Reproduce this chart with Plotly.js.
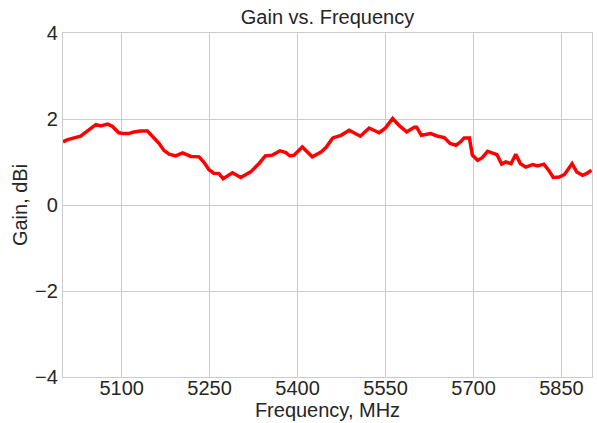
<!DOCTYPE html>
<html>
<head>
<meta charset="utf-8">
<script src="https://cdn.plot.ly/plotly-3.0.1.min.js"></script>
<style>html,body{margin:0;padding:0;background:#fff;}#chart{width:597px;height:423px;}</style>
</head>
<body>
<div id="chart"></div>
<script>
const frequency = [5000,5008,5030,5043,5056,5064,5076,5084,5095,5104,5112,5121,5132,5144,5155,5164,5172,5181,5192,5204,5218,5232,5240,5249,5257,5266,5273,5289,5303,5320,5334,5345,5357,5370,5380,5387,5394,5408,5425,5440,5448,5460,5474,5488,5507,5522,5539,5549,5562,5573,5586,5599,5603,5611,5627,5639,5650,5660,5670,5678,5684,5693,5698,5707,5715,5724,5740,5748,5755,5764,5772,5780,5789,5801,5809,5820,5828,5836,5846,5855,5868,5876,5886,5894,5901];
const gain = [1.47,1.52,1.60,1.74,1.87,1.84,1.88,1.83,1.68,1.66,1.66,1.70,1.72,1.72,1.57,1.43,1.27,1.18,1.14,1.21,1.13,1.12,1.00,0.82,0.74,0.73,0.61,0.75,0.64,0.77,0.96,1.14,1.16,1.26,1.22,1.14,1.16,1.35,1.12,1.23,1.33,1.56,1.62,1.74,1.60,1.79,1.68,1.78,2.01,1.85,1.70,1.81,1.81,1.62,1.66,1.60,1.57,1.43,1.39,1.47,1.56,1.56,1.16,1.04,1.10,1.25,1.17,0.95,1.00,0.96,1.18,0.96,0.88,0.94,0.91,0.95,0.81,0.64,0.65,0.71,0.96,0.77,0.69,0.74,0.81];
const xTicks = [5100,5250,5400,5550,5700,5850];
const yTicks = [-4,-2,0,2,4];

const family = '"Liberation Sans", Arial, sans-serif';
const txt = {size: 20, family: family, color: '#262626'};
const axisCommon = {
  showgrid: true, gridcolor: '#cccccc', gridwidth: 1,
  showline: true, linecolor: '#cccccc', linewidth: 1.2, mirror: true,
  zeroline: false, ticks: '', tickfont: txt
};
Plotly.newPlot('chart', [{
  x: frequency, y: gain, type: 'scatter', mode: 'lines',
  line: {color: '#ff0000', width: 3.5}, hoverinfo: 'skip'
}], {
  width: 597, height: 423,
  margin: {l: 63, r: 5, t: 33, b: 46},
  paper_bgcolor: '#ffffff', plot_bgcolor: '#ffffff',
  font: {family: family, color: '#262626'},
  showlegend: false,
  title: {text: 'Gain vs. Frequency', font: txt, x: 0.5, xanchor: 'center', xref: 'paper', y: 0.96, yanchor: 'middle'},
  xaxis: Object.assign({}, axisCommon, {range: [5000, 5902], tickvals: xTicks, ticktext: xTicks.map(String),
    ticklabelstandoff: -7,
    title: {text: 'Frequency, MHz', font: txt, standoff: 2}}),
  yaxis: Object.assign({}, axisCommon, {range: [-4, 4], tickvals: yTicks, ticktext: yTicks.map(v => v < 0 ? '\u2212' + Math.abs(v) : String(v)),
    title: {text: 'Gain, dBi', font: txt, standoff: 2}})
}, {staticPlot: true, displayModeBar: false});
</script>
</body>
</html>
